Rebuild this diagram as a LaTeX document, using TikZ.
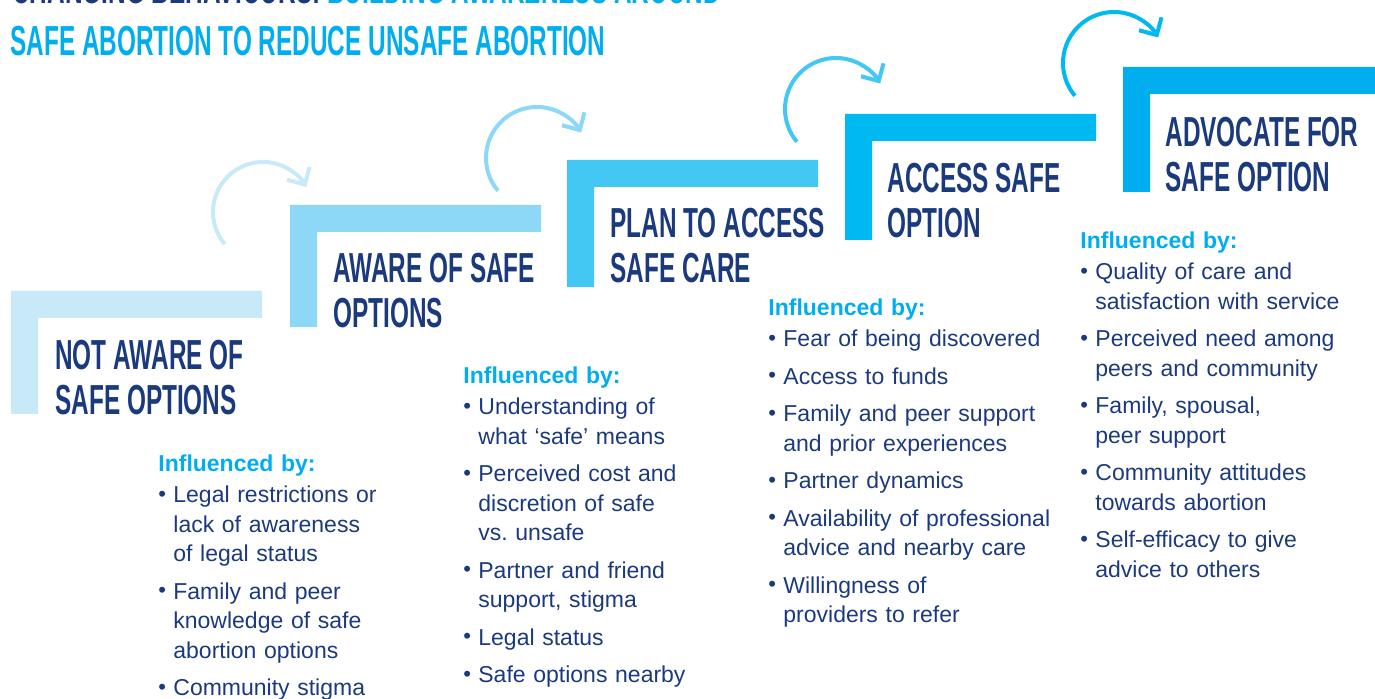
\documentclass[tikz,border=0pt]{standalone}
\usepackage{fontspec}
\setmainfont{Liberation Sans}
\newfontfamily\headfont[FakeStretch=0.58]{Liberation Sans}
\usepackage{enumitem}
\usepackage{tikz}
\usetikzlibrary{arrows.meta}

\definecolor{navy}{HTML}{1B3A7E}
\definecolor{skyhead}{HTML}{00AEEF}
\definecolor{stepA}{HTML}{C8E9F8}
\definecolor{stepB}{HTML}{8DD8F6}
\definecolor{stepC}{HTML}{43C7F3}
\definecolor{stepD}{HTML}{00B9F0}
\definecolor{stepE}{HTML}{00AEEF}

\setlist[itemize]{label={\raisebox{0.6pt}{\fontsize{11}{11}\selectfont\textbullet}}, leftmargin=7.5pt, labelwidth=7.5pt, labelsep=0pt, align=left, topsep=1pt, partopsep=0pt, parsep=0pt, itemsep=4pt}
\newcommand{\inflby}{{\color{skyhead}\bfseries Influenced by:}}
\frenchspacing

\begin{document}
\begin{tikzpicture}[x=0.5pt, y=-0.5pt,
	heading/.style={anchor=north west, inner sep=0, align=left, text=navy, font=\headfont\bfseries\fontsize{21}{22.5}\selectfont},
	infl/.style={anchor=north west, inner sep=0, text width=160pt, align=left, text=navy, font=\fontsize{11.5}{14.75}\selectfont},
	turn/.style={line width=2pt, -{Straight Barb[length=6.5pt, width=13pt]}}]
	\useasboundingbox (0,0) rectangle (1375,699);
	\clip (0,0) rectangle (1375,699);
	\node[anchor=base west, inner sep=0, font=\headfont\bfseries\fontsize{21}{22.5}\selectfont] (titleA) at (12,4) {\color{navy}CHANGING BEHAVIOURS: \color{skyhead}BUILDING AWARENESS AROUND};
	\node[heading, text=skyhead] (titleB) at (10,26) {SAFE ABORTION TO REDUCE UNSAFE ABORTION};
	\fill[stepA] (11,291) -- ++(251,0) -- ++(0,27) -- ++(-224,0) -- ++(0,96) -- ++(-27,0) -- cycle;
	\fill[stepB] (290,205) -- ++(251,0) -- ++(0,27) -- ++(-224,0) -- ++(0,95) -- ++(-27,0) -- cycle;
	\fill[stepC] (567,160) -- ++(251,0) -- ++(0,27) -- ++(-224,0) -- ++(0,100) -- ++(-27,0) -- cycle;
	\fill[stepD] (845,114) -- ++(251,0) -- ++(0,27) -- ++(-224,0) -- ++(0,99) -- ++(-27,0) -- cycle;
	\fill[stepE] (1123,67) -- ++(260,0) -- ++(0,27) -- ++(-233,0) -- ++(0,98) -- ++(-27,0) -- cycle;
	\node[heading] (headA) at (55,340) {NOT AWARE OF\\SAFE OPTIONS};
	\node[heading] (headB) at (333,253) {AWARE OF SAFE\\OPTIONS};
	\node[heading] (headC) at (610,208) {PLAN TO ACCESS\\SAFE CARE};
	\node[heading] (headD) at (887,163) {ACCESS SAFE\\OPTION};
	\node[heading] (headE) at (1165,117) {ADVOCATE FOR\\SAFE OPTION};
	\coordinate (turnA) at (263,212);
	\coordinate (turnB) at (537,158);
	\coordinate (turnC) at (836,109);
	\coordinate (turnD) at (1114,63);
	\draw[turn, stepA] (turnA) ++(140:50) arc[start angle=140, end angle=330, radius=50];
	\draw[turn, stepB] (turnB) ++(140:51) arc[start angle=140, end angle=330, radius=51];
	\draw[turn, stepC] (turnC) ++(140:51) arc[start angle=140, end angle=330, radius=51];
	\draw[turn, stepD] (turnD) ++(140:51) arc[start angle=140, end angle=330, radius=51];
	\node[infl] (inflA) at (158,454) {\inflby
		\begin{itemize}
		\item Legal restrictions or\newline lack of awareness\newline of legal status
		\item Family and peer\newline knowledge of safe\newline abortion options
		\item Community stigma
		\end{itemize}};
	\node[infl] (inflB) at (463,366) {\inflby
		\begin{itemize}
		\item Understanding of\newline what ‘safe’ means
		\item Perceived cost and\newline discretion of safe\newline vs. unsafe
		\item Partner and friend\newline support, stigma
		\item Legal status
		\item Safe options nearby
		\end{itemize}};
	\node[infl] (inflC) at (768,298) {\inflby
		\begin{itemize}
		\item Fear of being discovered
		\item Access to funds
		\item Family and peer support\newline and prior experiences
		\item Partner dynamics
		\item Availability of professional\newline advice and nearby care
		\item Willingness of\newline providers to refer
		\end{itemize}};
	\node[infl] (inflD) at (1080,231) {\inflby
		\begin{itemize}
		\item Quality of care and\newline satisfaction with service
		\item Perceived need among\newline peers and community
		\item Family, spousal,\newline peer support
		\item Community attitudes\newline towards abortion
		\item Self-efficacy to give\newline advice to others
		\end{itemize}};
\end{tikzpicture}
\end{document}
